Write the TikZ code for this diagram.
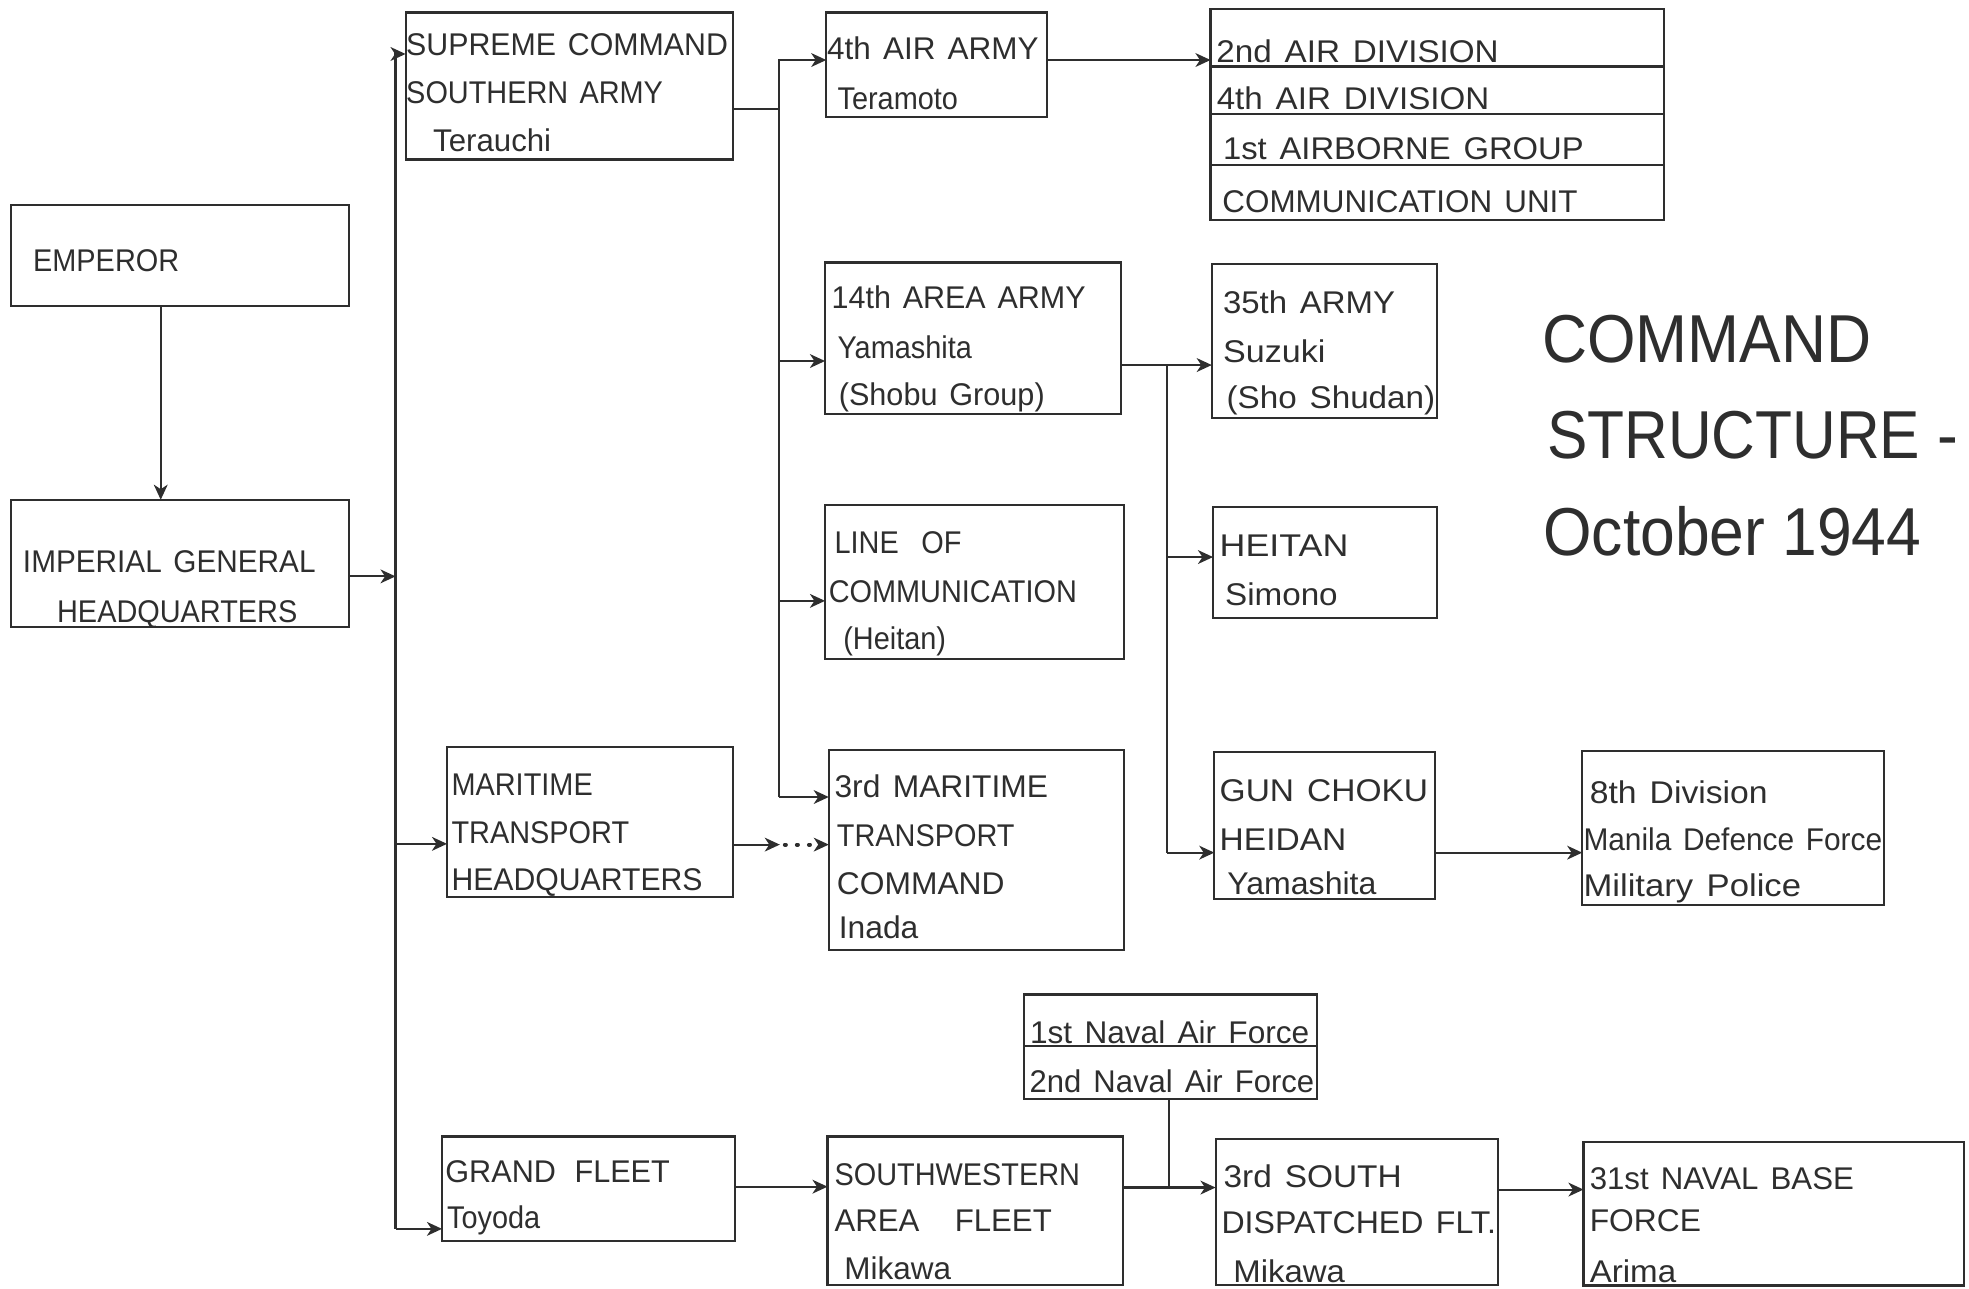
\documentclass[tikz,border=0pt]{standalone}
\usepackage{fontspec}
\usepackage{graphicx}
\setmainfont{Liberation Sans}[FakeStretch=0.92, WordSpace=1.4]
\newfontfamily\titlefont{Liberation Sans}[FakeStretch=0.92]
\usetikzlibrary{arrows.meta}
\definecolor{ink}{gray}{0.18}
\newcommand\bx[5]{\node[bxs, minimum width={(#4-#2)*0.5pt}, minimum height={(#5-#3)*0.5pt}] (#1) at ({(#2+#4)/2},{(#3+#5)/2}) {};}
\newcommand\tx[5][1]{\node[lbl] (#2) at (#3,#4) {\scalebox{#1}[1]{#5}};}
\begin{document}
\begin{tikzpicture}[x=0.5pt,y=-0.5pt, line width=0.85pt, color=ink,
  bxs/.style={draw, rectangle, inner sep=0pt, outer sep=0pt},
  lbl/.style={anchor=base west, inner sep=0pt, outer sep=0pt, font=\fontsize{12.5}{15}\selectfont},
  ttl/.style={anchor=base west, inner sep=0pt, outer sep=0pt, font=\titlefont\fontsize{27}{32}\selectfont},
  arr/.style={-{Stealth[length=6pt,width=5.5pt,inset=1.8pt]}},
  dotline/.style={dash pattern=on 0.4pt off 4.4pt, line cap=round, line width=1.6pt}]
\useasboundingbox (0,0) rectangle (1568,1026);

% ---------- boxes ----------
\bx{emp}{9}{163}{278}{244}
\bx{ighq}{9}{398}{278}{499}
\bx{sc}{323}{10}{584}{127}
\bx{mthq}{356}{595}{584}{714}
\bx{gf}{352}{905}{585}{988}
\bx{aa4}{658}{10}{834}{93}
\bx{aa14}{657}{209}{893}{329.5}
\bx{loc}{657}{402}{895}{525}
\bx{mt3}{660}{597}{895}{756.5}
\bx{sw}{659}{905}{894}{1023}
\bx{ad1}{964}{7}{1325}{53}
\bx{ad2}{964}{53}{1325}{91}
\bx{ad3}{964}{91}{1325}{131.5}
\bx{ad4}{964}{131.5}{1325}{175}
\bx{a35}{965}{210}{1144}{333}
\bx{heitan}{966}{404}{1144}{492}
\bx{gck}{967}{599}{1143}{716}
\bx{d8}{1260}{598}{1500}{721}
\bx{nav1}{815.5}{792}{1049}{833}
\bx{nav2}{815.5}{833}{1049}{875}
\bx{s3}{968}{907}{1193}{1023}
\bx{nb31}{1261}{909.5}{1564}{1023.7}

% ---------- texts ----------
\tx{t1}{26.4}{216.4}{EMPEROR}
\tx[1.03]{t2}{18.3}{456}{IMPERIAL GENERAL}
\tx{t3}{45.5}{495.6}{HEADQUARTERS}
\tx[1.05]{t4}{323.5}{44}{SUPREME COMMAND}
\tx{t5}{323.5}{82.6}{SOUTHERN ARMY}
\tx[1.08]{t6}{345}{120.5}{Terauchi}
\tx[1.09]{t7}{658.6}{47.2}{4th AIR ARMY}
\tx{t8}{667}{87.5}{Teramoto}
\tx[1.15]{t9}{968.6}{49.5}{2nd AIR DIVISION}
\tx[1.147]{t10}{969}{87.6}{4th AIR DIVISION}
\tx[1.135]{t11}{974}{127.2}{1st AIRBORNE GROUP}
\tx[1.087]{t12}{973.5}{169}{COMMUNICATION UNIT}
\tx[1.055]{t13}{662.3}{246}{14th AREA ARMY}
\tx{t14}{667}{285.8}{Yamashita}
\tx[1.06]{t15}{668}{323}{(Shobu Group)}
\tx[1.14]{t16}{974}{249.4}{35th ARMY}
\tx[1.18]{t17}{974}{289}{Suzuki}
\tx[1.15]{t18}{976.8}{325}{(Sho Shudan)}
\tx{t19}{664.6}{441}{LINE\hspace{9pt}OF}
\tx{t20}{660}{479.8}{COMMUNICATION}
\tx{t21}{671.6}{517.6}{(Heitan)}
\tx[1.24]{t22}{971.3}{442.8}{HEITAN}
\tx[1.15]{t23}{975.6}{481.8}{Simono}
\tx{t24}{359.6}{633.7}{MARITIME}
\tx{t25}{359.6}{671.9}{TRANSPORT}
\tx[1.045]{t26}{359.6}{709.4}{HEADQUARTERS}
\tx[1.10]{t27}{664.6}{634.7}{3rd MARITIME}
\tx{t28}{666.5}{674.2}{TRANSPORT}
\tx[1.10]{t29}{666.5}{712}{COMMAND}
\tx[1.10]{t30}{668}{747.3}{Inada}
\tx[1.16]{t31}{971.3}{638}{GUN CHOKU}
\tx[1.16]{t32}{971.3}{677.5}{HEIDAN}
\tx[1.11]{t33}{977.4}{712}{Yamashita}
\tx[1.167]{t34}{1266}{639.5}{8th Division}
\tx[1.034]{t35}{1261}{677.5}{Manila Defence Force}
\tx[1.20]{t36}{1261}{713.6}{Military Police}
\tx[1.094]{t37}{820.3}{830.6}{1st Naval Air Force}
\tx[1.074]{t38}{820}{870}{2nd Naval Air Force}
\tx[1.06]{t39}{354.7}{941.4}{GRAND\hspace{7pt}FLEET}
\tx{t40}{356}{978.6}{Toyoda}
\tx{t41}{664.6}{944}{SOUTHWESTERN}
\tx[1.08]{t42}{664.6}{981}{AREA\hspace{13pt}FLEET}
\tx[1.09]{t43}{672.5}{1019}{Mikawa}
\tx[1.156]{t44}{974.4}{945.7}{3rd SOUTH}
\tx[1.11]{t45}{972.8}{982}{DISPATCHED FLT.}
\tx[1.14]{t46}{982.2}{1021.4}{Mikawa}
\tx[1.08]{t47}{1266}{947.3}{31st NAVAL BASE}
\tx[1.10]{t48}{1266}{981}{FORCE}
\tx[1.146]{t49}{1266}{1021.4}{Arima}

% ---------- title ----------
\node[ttl] (ttl1) at (1228,289) {COMMAND};
\node[ttl] (ttl2) at (1232,365) {\scalebox{0.97}[1]{STRUCTURE} -};
\node[ttl] (ttl3) at (1229,442) {October 1944};

% ---------- bus coordinates ----------
\coordinate (x128) at (128,0);
\coordinate (b1) at (315,43);
\coordinate (m1) at (315,459);
\coordinate (m2) at (315,672);
\coordinate (b2) at (315,978.6);
\coordinate (c0) at (620,86.5);
\coordinate (c1) at (620,47.8);
\coordinate (c3) at (620,287.5);
\coordinate (c4) at (620,478.5);
\coordinate (c2) at (620,634.7);
\coordinate (d1) at (929,290.7);
\coordinate (d3) at (929,443.6);
\coordinate (d2) at (929,679);
\coordinate (m3) at (621,672.6);
\coordinate (g1) at (0,945);
\coordinate (j) at (931,945.7);
\coordinate (k) at (0,947.3);

% ---------- connectors ----------
\draw[arr] (emp.south -| x128) -- (ighq.north -| x128);
\draw[arr] (ighq.east |- m1) -- (m1);
\draw[arr] (b2) -- (b1) -- (sc.west |- b1);
\draw[arr] (b2) -- (gf.west |- b2);
\draw[arr] (m2) -- (mthq.west |- m2);

\draw (sc.east |- c0) -- (c0);
\draw[arr] (c2) -- (c1) -- (aa4.west |- c1);
\draw[arr] (c3) -- (aa14.west |- c3);
\draw[arr] (c4) -- (loc.west |- c4);
\draw[arr] (c2) -- (mt3.west |- c2);

\draw[arr] (aa4.east |- c1) -- (ad1.west |- c1);

\draw[arr] (aa14.east |- d1) -- (a35.west |- d1);
\draw (d1) -- (d2);
\draw[arr] (d3) -- (heitan.west |- d3);
\draw[arr] (d2) -- (gck.west |- d2);
\draw[arr] (gck.east |- d2) -- (d8.west |- d2);

\draw[arr] (mthq.east |- m3) -- (m3);
\draw[dotline] ([xshift=2pt]m3) -- ([xshift=-4pt]mt3.west |- m3);
\draw[arr] ([xshift=-4pt]mt3.west |- m3) -- (mt3.west |- m3);

\draw[arr] (gf.east |- g1) -- (sw.west |- g1);
\draw[arr] (sw.east |- j) -- (s3.west |- j);
\draw (nav2.south -| j) -- (j);
\draw[arr] (s3.east |- k) -- (nb31.west |- k);
\end{tikzpicture}
\end{document}
